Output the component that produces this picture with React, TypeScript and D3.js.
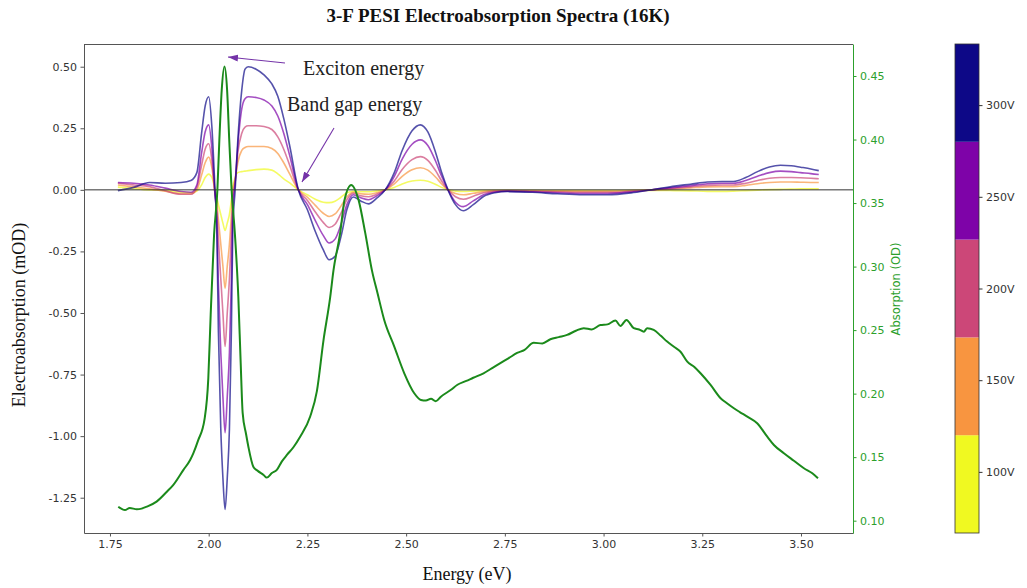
import { useEffect, useRef } from "react";
import * as d3 from "d3";

const width = 1027;
const height = 588;
const plotLeft = 84;
const plotRight = 853;
const plotTop = 44;
const plotBottom = 533;
const barLeft = 955;
const barWidth = 24;

// Electroabsorption spectra, one value per energy point for each bias voltage
const energy = [
  1.77, 1.81, 1.85, 1.89, 1.93, 1.955, 1.97, 1.982, 1.991, 2.0, 2.008,
  2.016, 2.0205, 2.0245, 2.0306, 2.036, 2.0415, 2.047, 2.0525, 2.0575, 2.061, 2.067,
  2.0737, 2.0838, 2.092, 2.1,
  2.12, 2.14, 2.16, 2.175, 2.19, 2.205, 2.227,
  2.25, 2.27, 2.29, 2.305, 2.32, 2.335, 2.35, 2.366, 2.385, 2.405, 2.425, 2.447,
  2.47, 2.49, 2.515, 2.536, 2.555, 2.575, 2.59, 2.606,
  2.625, 2.645, 2.67, 2.696, 2.725, 2.756, 2.82, 2.883, 2.95, 3.01, 3.076, 3.137,
  3.18, 3.22, 3.263, 3.3, 3.329, 3.36, 3.39, 3.42, 3.448, 3.475, 3.499, 3.525, 3.545,
];

const ea300 = [
  -0.003, 0.01, 0.03, 0.027, 0.03, 0.038, 0.07, 0.23, 0.34, 0.378, 0.257,
  0, -0.16, -0.57, -0.97, -1.17, -1.298, -1.17, -0.97, -0.57, -0.16, 0,
  0.2, 0.406, 0.49, 0.5,
  0.49, 0.467, 0.43, 0.38, 0.29, 0.18, 0,
  -0.081, -0.169, -0.243, -0.284, -0.27, -0.19, -0.08, -0.029, -0.045, -0.057, -0.035, 0,
  0.07, 0.16, 0.24, 0.264, 0.235, 0.15, 0.07, 0,
  -0.06, -0.085, -0.06, -0.027, -0.012, -0.007, -0.01, -0.016, -0.02, -0.02, -0.011, 0.004,
  0.015, 0.023, 0.032, 0.034, 0.034, 0.05, 0.074, 0.093, 0.1, 0.098, 0.092, 0.085, 0.078,
];

const ea250 = [
  0.03, 0.027, 0.02, 0.007, -0.007, -0.01, 0.02, 0.15, 0.235, 0.264, 0.17,
  -0.02, -0.12, -0.38, -0.66, -0.84, -0.986, -0.84, -0.66, -0.36, -0.08, 0.03,
  0.18, 0.33, 0.37, 0.378,
  0.375, 0.365, 0.34, 0.3, 0.23, 0.14, 0,
  -0.06, -0.125, -0.185, -0.216, -0.2, -0.14, -0.06, -0.02, -0.032, -0.04, -0.025, 0,
  0.055, 0.125, 0.185, 0.203, 0.18, 0.115, 0.055, 0,
  -0.05, -0.068, -0.045, -0.02, -0.009, -0.005, -0.008, -0.012, -0.015, -0.015, -0.008, 0.003,
  0.01, 0.017, 0.025, 0.027, 0.027, 0.038, 0.055, 0.07, 0.076, 0.074, 0.07, 0.066, 0.062,
];

const ea200 = [
  0.027, 0.02, 0.013, -0.004, -0.018, -0.018, 0.01, 0.1, 0.165, 0.187, 0.12,
  -0.02, -0.08, -0.2, -0.36, -0.5, -0.636, -0.5, -0.36, -0.18, -0.04, 0.03,
  0.15, 0.23, 0.255, 0.26,
  0.26, 0.257, 0.245, 0.215, 0.165, 0.1, 0,
  -0.043, -0.09, -0.132, -0.153, -0.14, -0.095, -0.04, -0.014, -0.024, -0.028, -0.018, 0,
  0.036, 0.083, 0.123, 0.135, 0.12, 0.077, 0.036, 0,
  -0.028, -0.038, -0.026, -0.012, -0.006, -0.004, -0.006, -0.008, -0.01, -0.01, -0.005, 0.002,
  0.007, 0.012, 0.018, 0.02, 0.02, 0.027, 0.038, 0.047, 0.05, 0.05, 0.049, 0.047, 0.045,
];

const ea150 = [
  0.02, 0.012, 0.004, -0.006, -0.016, -0.016, 0, 0.06, 0.11, 0.133, 0.09,
  -0.01, -0.05, -0.12, -0.22, -0.31, -0.4, -0.31, -0.22, -0.1, 0, 0.04,
  0.11, 0.16, 0.172, 0.176,
  0.176, 0.176, 0.168, 0.148, 0.11, 0.065, 0,
  -0.03, -0.063, -0.095, -0.108, -0.098, -0.066, -0.028, -0.01, -0.016, -0.018, -0.012, 0,
  0.024, 0.055, 0.082, 0.09, 0.08, 0.051, 0.024, 0,
  -0.015, -0.02, -0.014, -0.007, -0.004, -0.003, -0.004, -0.005, -0.006, -0.006, -0.003, 0.001,
  0.004, 0.008, 0.012, 0.013, 0.013, 0.018, 0.025, 0.03, 0.032, 0.032, 0.031, 0.03, 0.03,
];

const ea100 = [
  0.011, 0.005, 0, -0.002, -0.01, -0.012, -0.005, 0.02, 0.05, 0.064, 0.05,
  0, -0.03, -0.06, -0.1, -0.135, -0.165, -0.135, -0.1, -0.04, 0.01, 0.05,
  0.07, 0.074, 0.076, 0.078,
  0.082, 0.084, 0.08, 0.065, 0.045, 0.028, 0,
  -0.02, -0.038, -0.05, -0.052, -0.046, -0.03, -0.012, -0.006, -0.008, -0.008, -0.005, 0,
  0.01, 0.024, 0.036, 0.039, 0.035, 0.022, 0.01, 0,
  -0.005, -0.007, -0.005, -0.003, -0.002, -0.002, -0.002, -0.003, -0.003, -0.003, -0.002, -0.002,
  -0.003, -0.004, -0.006, -0.006, -0.005, -0.003, -0.001, 0.001, 0.002, 0.003, 0.004, 0.004, 0.004,
];

// Absorption spectrum (right axis)
const absEnergy = [
  1.771, 1.788, 1.8, 1.818, 1.83, 1.843, 1.868, 1.894, 1.91, 1.936,
  1.953, 1.961, 1.973, 1.9895, 1.999, 2.005, 2.0136, 2.022, 2.027, 2.033,
  2.04, 2.0466, 2.052, 2.058, 2.0665, 2.075, 2.081, 2.086, 2.0947, 2.1006,
  2.113, 2.125, 2.139, 2.147, 2.16, 2.1725, 2.185, 2.198, 2.215, 2.2316,
  2.257, 2.274, 2.2907, 2.3077, 2.316, 2.333, 2.344, 2.361, 2.3795, 2.3964,
  2.4134, 2.4276, 2.4445, 2.47, 2.4953, 2.5206, 2.5376, 2.55, 2.563, 2.575,
  2.588, 2.6136, 2.63, 2.6524, 2.67, 2.696, 2.72, 2.7386, 2.76, 2.781,
  2.8, 2.823, 2.845, 2.8653, 2.8865, 2.9077, 2.93, 2.95, 2.97, 2.992,
  3.01, 3.03, 3.0428, 3.058, 3.0765, 3.09, 3.102, 3.1105, 3.127, 3.145,
  3.161, 3.18, 3.1949, 3.212, 3.23, 3.2456, 3.271, 3.2964, 3.31, 3.33,
  3.345, 3.364, 3.389, 3.4146, 3.4314, 3.4567, 3.482, 3.5074, 3.5287, 3.543,
];

const absValue = [
  0.111, 0.1084, 0.11, 0.109, 0.1095, 0.111, 0.115, 0.1228, 0.128, 0.14,
  0.1478, 0.153, 0.163, 0.18, 0.212, 0.262, 0.325, 0.3604, 0.3998, 0.439,
  0.4575, 0.439, 0.3998, 0.3604, 0.325, 0.2764, 0.2242, 0.1848, 0.168, 0.158,
  0.1425, 0.139, 0.136, 0.1339, 0.1375, 0.14, 0.1465, 0.1517, 0.158, 0.166,
  0.182, 0.202, 0.242, 0.276, 0.297, 0.3265, 0.3525, 0.3643, 0.3525, 0.3265,
  0.297, 0.279, 0.258, 0.237, 0.216, 0.2003, 0.195, 0.1945, 0.196, 0.194,
  0.1976, 0.203, 0.207, 0.21, 0.2125, 0.216, 0.2205, 0.224, 0.228, 0.232,
  0.2345, 0.24, 0.2395, 0.2428, 0.2445, 0.2462, 0.2495, 0.2515, 0.2505, 0.254,
  0.2545, 0.2575, 0.2533, 0.258, 0.2515, 0.2505, 0.2488, 0.2515, 0.2502, 0.2455,
  0.241, 0.2365, 0.233, 0.2252, 0.221, 0.216, 0.2068, 0.1964, 0.193, 0.1885,
  0.1855, 0.1819, 0.1767, 0.1661, 0.1596, 0.1531, 0.1472, 0.1413, 0.1373, 0.1334,
];

const voltages = [100, 150, 200, 250, 300];
const voltColors = ["#f0f921", "#f89540", "#cc4778", "#7e03a8", "#0d0887"];
const eaSeries = [ea100, ea150, ea200, ea250, ea300];
const barEdges = [66.67, 120, 173.33, 226.67, 280, 333.33];

const xTicks = [1.75, 2.0, 2.25, 2.5, 2.75, 3.0, 3.25, 3.5];
const yLeftTicks = [-1.25, -1.0, -0.75, -0.5, -0.25, 0, 0.25, 0.5];
const yRightTicks = [0.1, 0.15, 0.2, 0.25, 0.3, 0.35, 0.4, 0.45];

const serif = "'Liberation Serif', 'DejaVu Serif', serif";
const sans = "'DejaVu Sans', sans-serif";
const absGreen = "#1b8a1b";
const axisGreen = "#2ca02c";
const arrowColor = "#7433a8";

const fmt = (d: number) => d3.format(".2f")(d).replace("\u2212", "-");

export default function App() {
  const xRef = useRef<SVGGElement>(null);
  const yLeftRef = useRef<SVGGElement>(null);
  const yRightRef = useRef<SVGGElement>(null);
  const barRef = useRef<SVGGElement>(null);

  const x = d3.scaleLinear().domain([1.6842, 3.6317]).range([plotLeft, plotRight]);
  const yLeft = d3.scaleLinear().domain([-1.3933, 0.5922]).range([plotBottom, plotTop]);
  const yRight = d3.scaleLinear().domain([0.0903, 0.4752]).range([plotBottom, plotTop]);
  const yBar = d3.scaleLinear().domain([barEdges[0], barEdges[5]]).range([plotBottom, plotTop]);

  const eaLine = d3
    .line<number>()
    .x((_, i) => x(energy[i]))
    .y((d) => yLeft(d))
    .curve(d3.curveMonotoneX);

  const absLine = d3
    .line<number>()
    .x((_, i) => x(absEnergy[i]))
    .y((d) => yRight(d))
    .curve(d3.curveMonotoneX);

  useEffect(() => {
    const style = (g: d3.Selection<SVGGElement, unknown, null, undefined>, color: string, textColor: string) => {
      g.attr("font-family", sans).attr("font-size", 11);
      g.selectAll("text").attr("fill", textColor);
      g.selectAll("line").attr("stroke", color);
      g.select(".domain").attr("stroke", color);
    };
    const gx = d3.select(xRef.current!);
    gx.call(d3.axisBottom(x).tickValues(xTicks).tickFormat((d) => fmt(+d)).tickSize(3.5).tickPadding(3.5).tickSizeOuter(0));
    style(gx, "#555", "#333");

    const gl = d3.select(yLeftRef.current!);
    gl.call(d3.axisLeft(yLeft).tickValues(yLeftTicks).tickFormat((d) => fmt(+d)).tickSize(3.5).tickPadding(3.5).tickSizeOuter(0));
    style(gl, "#555", "#333");

    const gr = d3.select(yRightRef.current!);
    gr.call(d3.axisRight(yRight).tickValues(yRightTicks).tickFormat((d) => fmt(+d)).tickSize(3.5).tickPadding(3.5).tickSizeOuter(0));
    style(gr, axisGreen, axisGreen);

    const gb = d3.select(barRef.current!);
    gb.call(d3.axisRight(yBar).tickValues(voltages).tickFormat((d) => `${d}V`).tickSize(3.5).tickPadding(3.5).tickSizeOuter(0));
    style(gb, "#333", "#333");
    gb.select(".domain").remove();
  });

  return (
    <svg
      width={width}
      height={height}
      viewBox={`0 0 ${width} ${height}`}
      style={{ position: "absolute", left: 0, top: 0, background: "#fff" }}
    >
      <defs>
        <clipPath id="plot-clip">
          <rect x={plotLeft} y={plotTop} width={plotRight - plotLeft} height={plotBottom - plotTop} />
        </clipPath>
        <marker
          id="arrow-head"
          viewBox="0 0 10 7"
          refX={10}
          refY={3.5}
          markerWidth={10}
          markerHeight={7}
          markerUnits="userSpaceOnUse"
          orient="auto"
        >
          <path d="M0,0 L10,3.5 L0,7 Z" fill={arrowColor} />
        </marker>
      </defs>
      <rect x={0} y={0} width={width} height={height} fill="#fff" />

      <text x={498} y={22} textAnchor="middle" fontFamily={serif} fontWeight="bold" fontSize={19} fill="#111">
        3-F PESI Electroabsorption Spectra (16K)
      </text>

      <g clipPath="url(#plot-clip)">
        {eaSeries.map((s, i) => (
          <path
            key={voltages[i]}
            d={eaLine(s) ?? ""}
            fill="none"
            stroke={voltColors[i]}
            strokeOpacity={0.7}
            strokeWidth={1.6}
          />
        ))}
        <line x1={plotLeft} x2={plotRight} y1={yLeft(0)} y2={yLeft(0)} stroke="#333" strokeWidth={1} />
        <path d={absLine(absValue) ?? ""} fill="none" stroke={absGreen} strokeWidth={2} />
      </g>

      <line x1={plotLeft} x2={plotRight} y1={plotTop + 0.5} y2={plotTop + 0.5} stroke="#555" />
      <g ref={xRef} transform={`translate(0,${plotBottom})`} />
      <g ref={yLeftRef} transform={`translate(${plotLeft},0)`} />
      <g ref={yRightRef} transform={`translate(${plotRight},0)`} />

      {/* annotations */}
      <line x1={285} y1={63} x2={228} y2={57} stroke={arrowColor} strokeWidth={1.1} markerEnd="url(#arrow-head)" />
      <text x={303} y={75} fontFamily={serif} fontSize={20} fill="#222">
        Exciton energy
      </text>
      <line x1={334} y1={128} x2={302} y2={182} stroke={arrowColor} strokeWidth={1.1} markerEnd="url(#arrow-head)" />
      <text x={287} y={111} fontFamily={serif} fontSize={20} fill="#222">
        Band gap energy
      </text>

      {/* axis labels */}
      <text x={467} y={580} textAnchor="middle" fontFamily={serif} fontSize={18} fill="#111">
        Energy (eV)
      </text>
      <text transform="translate(25,315) rotate(-90)" textAnchor="middle" fontFamily={serif} fontSize={18} fill="#111">
        Electroabsorption (mOD)
      </text>
      <text transform="translate(900,289) rotate(-90)" textAnchor="middle" fontFamily={sans} fontSize={11.5} fill={axisGreen}>
        Absorption (OD)
      </text>

      {/* colorbar */}
      {voltColors.map((c, i) => (
        <rect
          key={c}
          x={barLeft}
          y={yBar(barEdges[i + 1])}
          width={barWidth}
          height={yBar(barEdges[i]) - yBar(barEdges[i + 1])}
          fill={c}
        />
      ))}
      <rect x={barLeft} y={plotTop} width={barWidth} height={plotBottom - plotTop} fill="none" stroke="#333" strokeWidth={0.8} />
      <g ref={barRef} transform={`translate(${barLeft + barWidth},0)`} />
    </svg>
  );
}
